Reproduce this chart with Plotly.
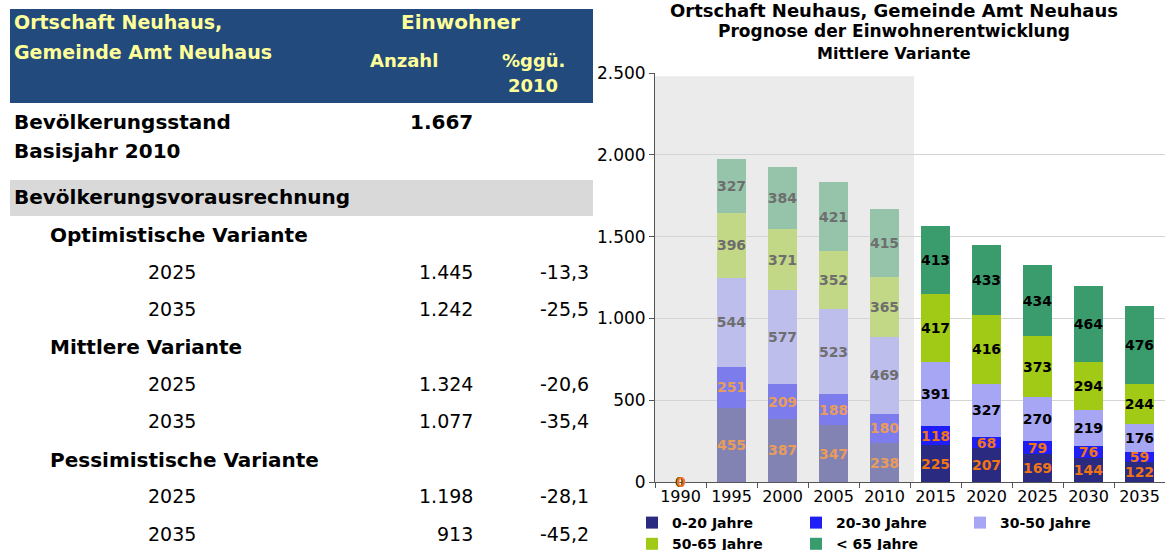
import plotly.graph_objects as go

# ---------------- data ----------------
years = ["1990", "1995", "2000", "2005", "2010", "2015", "2020", "2025", "2030", "2035"]
series_names = ["0-20 Jahre", "20-30 Jahre", "30-50 Jahre", "50-65 Jahre", "< 65 Jahre"]
age_0_20 = [0, 455, 387, 347, 238, 225, 207, 169, 144, 122]
age_20_30 = [0, 251, 209, 188, 180, 118, 68, 79, 76, 59]
age_30_50 = [0, 544, 577, 523, 469, 391, 327, 270, 219, 176]
age_50_65 = [0, 396, 371, 352, 365, 417, 416, 373, 294, 244]
age_65_plus = [0, 327, 384, 421, 415, 413, 433, 434, 464, 476]
y_ticks = [0, 500, 1000, 1500, 2000, 2500]

chart_title = ["Ortschaft Neuhaus, Gemeinde Amt Neuhaus", "Prognose der Einwohnerentwicklung", "Mittlere Variante"]
table_title = ["Ortschaft Neuhaus,", "Gemeinde Amt Neuhaus"]
base_label = ["Bevölkerungsstand", "Basisjahr 2010"]
base_value = "1.667"
section_label = "Bevölkerungsvorausrechnung"
variants = ["Optimistische Variante", "Mittlere Variante", "Pessimistische Variante"]
variant_years = ["2025", "2035"]
variant_counts = [["1.445", "1.242"], ["1.324", "1.077"], ["1.198", "913"]]
variant_pct = [["-13,3", "-25,5"], ["-20,6", "-35,4"], ["-28,1", "-45,2"]]

# ---------------- styles ----------------
W, H = 1165, 550
FONT = "DejaVu Sans, Liberation Sans, Arial"
hist_n = 5  # 1990..2010 are historical (faded)
colors_fore = ["#2A2A80", "#1E1EF5", "#A6A6F4", "#A0CA16", "#3A9C6C"]
colors_hist = ["#8283B3", "#7C7CEC", "#BEBEEC", "#C3D886", "#95C4AB"]
text_fore = ["#F07414", "#F07414", "#000000", "#000000", "#000000"]
text_hist = ["#E89C5C", "#E89C5C", "#6E6E6E", "#6E6E6E", "#6E6E6E"]

# plot-area box in pixels (margins)
ML, MT, MB = 632, 73, 68
PW, PH = W - ML, H - MT - MB
AXIS_X = 655


def px(xp):
    return (xp - ML) / PW


def py(yp):
    return (H - MB - yp) / PH


fig = go.Figure()
all_series = [age_0_20, age_20_30, age_30_50, age_50_65, age_65_plus]
for k, (name, vals) in enumerate(zip(series_names, all_series)):
    cols = [colors_hist[k] if i < hist_n else colors_fore[k] for i in range(len(years))]
    tcols = [text_hist[k] if i < hist_n else text_fore[k] for i in range(len(years))]
    fig.add_trace(go.Bar(
        x=years, y=vals, name=name, legendgroup=name, showlegend=False,
        marker=dict(color=cols, line=dict(width=0)),
        text=[str(v) if v else "" for v in vals],
        textposition="inside", insidetextanchor="middle", textangle=0,
        constraintext="none",
        textfont=dict(family=FONT, size=14, color=tcols, weight="bold"),
        hoverinfo="skip",
    ))

# legend entries in the forecast colours (zero-height, add nothing to the stacks)
for k, name in enumerate(series_names):
    fig.add_trace(go.Bar(x=[years[-1]], y=[0], name=name, legendgroup=name, showlegend=True,
                         marker=dict(color=colors_fore[k], line=dict(width=0)),
                         hoverinfo="skip"))

# zero labels at 1990 (category index 0)
fig.add_annotation(x=0, y=age_65_plus[0], text=str(age_65_plus[0]), showarrow=False,
                   xref="x", yref="y", yanchor="middle", xshift=-1,
                   font=dict(family=FONT, size=14, color="#333333", weight="bold"))
fig.add_annotation(x=0, y=age_0_20[0], text=str(age_0_20[0]), showarrow=False,
                   xref="x", yref="y", yanchor="middle",
                   font=dict(family=FONT, size=14, color="#F07414", weight="bold"))

# shaded historical region
fig.add_shape(type="rect", xref="x", yref="y", x0=-0.5, x1=hist_n - 0.42, y0=0, y1=2480,
              fillcolor="#EBEBEB", line=dict(width=0), layer="below")

fig.update_layout(
    width=W, height=H,
    margin=dict(l=ML, r=0, t=MT, b=MB, autoexpand=False),
    paper_bgcolor="white", plot_bgcolor="rgba(0,0,0,0)",
    barmode="stack", bargap=0.42,
    separators=",.",
    uniformtext=dict(minsize=14, mode="show"),
    font=dict(family=FONT, color="#000000"),
    showlegend=True,
    legend=dict(orientation="h", x=0, y=py(507), xanchor="left", yanchor="top",
                entrywidth=119, entrywidthmode="pixels", traceorder="normal",
                font=dict(family=FONT, size=14, color="#000000", weight="bold"),
                itemwidth=30, tracegroupgap=0, bgcolor="rgba(0,0,0,0)"),
    xaxis=dict(domain=[px(AXIS_X), 1], range=[-0.5, 9.5], type="category",
               showline=True, linecolor="#555555", linewidth=1,
               ticks="outside", tickson="boundaries", ticklen=5, tickcolor="#555555",
               tickfont=dict(family=FONT, size=16, color="#000000"), showgrid=False),
    yaxis=dict(domain=[0, 1], range=[0, 2500], tickvals=y_ticks, tickformat=",d",
               showline=True, linecolor="#555555", linewidth=1,
               ticks="outside", ticklen=5, tickcolor="#555555",
               showgrid=True, gridcolor="#D4D4D4", gridwidth=1, zeroline=False,
               tickfont=dict(family=FONT, size=17, color="#000000")),
)

# chart title (three lines)
for line, yy, sz in zip(chart_title, [10, 31, 53], [18, 17, 16]):
    fig.add_annotation(xref="paper", yref="paper", x=px(894), y=py(yy), xanchor="center", yanchor="middle",
                       showarrow=False, text=line,
                       font=dict(family=FONT, size=sz, color="#000000", weight="bold"))

# ---------------- table ----------------
fig.add_shape(type="rect", xref="paper", yref="paper", x0=px(10), x1=px(593), y0=py(103), y1=py(9),
              fillcolor="#224A7C", line=dict(width=0))
fig.add_shape(type="rect", xref="paper", yref="paper", x0=px(10), x1=px(593), y0=py(216), y1=py(180),
              fillcolor="#D9D9D9", line=dict(width=0))


def txt(x, y, s, anchor="left", size=19, bold=False, color="#000000"):
    fig.add_annotation(xref="paper", yref="paper", x=px(x), y=py(y), text=s, showarrow=False,
                       xanchor=anchor, yanchor="middle",
                       font=dict(family=FONT, size=size, color=color, weight="bold" if bold else "normal"))


YEL = "#FFFF99"
txt(12, 22, table_title[0], size=19, bold=True, color=YEL)
txt(12, 52, table_title[1], size=19, bold=True, color=YEL)
txt(460, 22, "Einwohner", anchor="center", size=20, bold=True, color=YEL)
txt(404, 60, "Anzahl", anchor="center", size=18, bold=True, color=YEL)
txt(533, 60, "%ggü.", anchor="center", size=18, bold=True, color=YEL)
txt(533, 86, "2010", anchor="center", size=18, bold=True, color=YEL)

txt(12, 122, base_label[0], size=20, bold=True)
txt(12, 151, base_label[1], size=20, bold=True)
txt(475, 122, base_value, anchor="right", size=20, bold=True)
txt(12, 197, section_label, size=20, bold=True)

row_y = [[235, 272, 309], [347, 384, 421], [460, 496, 534]]
for v in range(3):
    txt(48, row_y[v][0], variants[v], size=20, bold=True)
    for j in range(2):
        yy = row_y[v][j + 1]
        txt(146, yy, variant_years[j], size=19)
        txt(475, yy, variant_counts[v][j], anchor="right", size=19)
        txt(591, yy, variant_pct[v][j], anchor="right", size=19)

fig.write_html("out.html", config={"displayModeBar": False},
               post_script="document.body.style.margin='0px';")
